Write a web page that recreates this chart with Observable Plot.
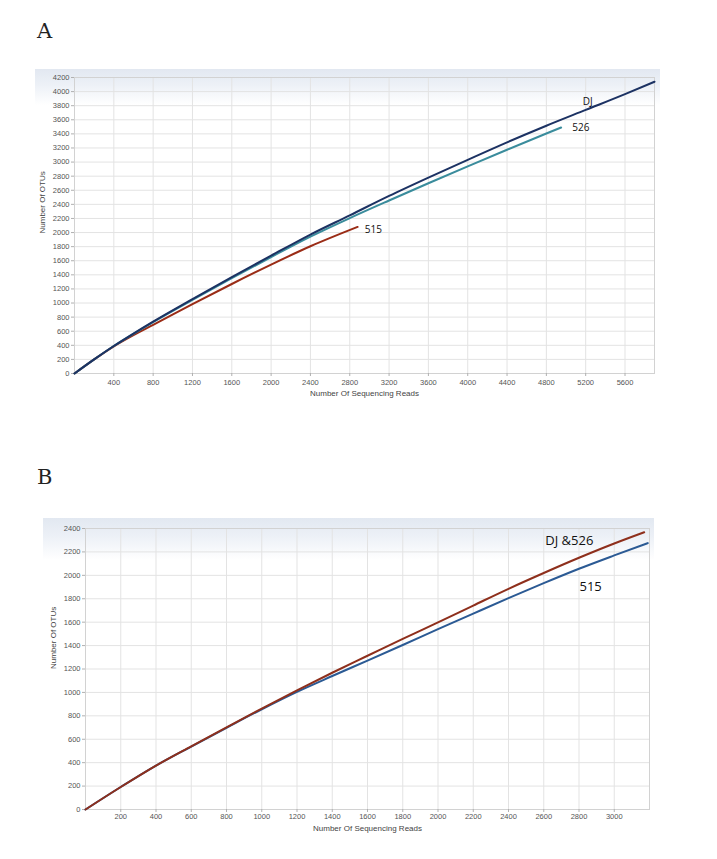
<!DOCTYPE html>
<html>
<head>
<meta charset="utf-8">
<script src="https://cdn.jsdelivr.net/npm/d3@7"></script>
<script src="https://cdn.jsdelivr.net/npm/@observablehq/plot@0.6"></script>
<style>
  html, body { margin: 0; padding: 0; background: #fff; }
  #wrap { position: relative; width: 717px; height: 859px; overflow: hidden; }
  .band { position: absolute; background: linear-gradient(to bottom, #e2e8f1 0%, #edf1f7 45%, #ffffff 100%); }
  .panel { position: absolute; left: 0; }
  .letter { position: absolute; font-family: "DejaVu Serif", "Liberation Serif", serif; font-size: 21px; color: #222; }
</style>
</head>
<body>
<div id="wrap">
  <div class="band" style="left:35px; top:69px; width:625px; height:36px;"></div>
  <div class="band" style="left:43px; top:518px; width:611px; height:42px;"></div>
  <div class="letter" style="left:37px; top:19px;">A</div>
  <div class="letter" style="left:37px; top:465px;">B</div>
  <div id="pa" class="panel" style="top:60px;"></div>
  <div id="pb" class="panel" style="top:505px;"></div>
</div>
<script>
// ---------- Panel A data ----------
const A_xTicks = [400, 800, 1200, 1600, 2000, 2400, 2800, 3200, 3600, 4000, 4400, 4800, 5200, 5600];
const A_yTicks = [0, 200, 400, 600, 800, 1000, 1200, 1400, 1600, 1800, 2000, 2200, 2400, 2600, 2800, 3000, 3200, 3400, 3600, 3800, 4000, 4200];

const A_DJ_x  = [0, 200, 400, 600, 800, 1200, 1600, 2000, 2400, 2800, 3200, 3600, 4000, 4400, 4800, 5200, 5600, 5900];
const A_DJ_y  = [0, 200, 390, 567, 736, 1056, 1368, 1672, 1972, 2244, 2520, 2780, 3032, 3280, 3516, 3740, 3964, 4140];
const A_526_x = [0, 200, 400, 600, 800, 1200, 1600, 2000, 2400, 2800, 3200, 3600, 4000, 4400, 4800, 4950];
const A_526_y = [0, 200, 390, 563, 730, 1045, 1352, 1652, 1942, 2205, 2455, 2700, 2940, 3175, 3405, 3490];
const A_515_x = [0, 200, 400, 600, 800, 1200, 1600, 2000, 2400, 2880];
const A_515_y = [0, 200, 386, 545, 690, 985, 1270, 1545, 1805, 2080];

const A_labels   = ["DJ", "526", "515"];
const A_labels_x = [5220, 5150, 3040];
const A_labels_y = [3860, 3480, 2040];

// ---------- Panel B data ----------
const B_xTicks = [200, 400, 600, 800, 1000, 1200, 1400, 1600, 1800, 2000, 2200, 2400, 2600, 2800, 3000];
const B_yTicks = [0, 200, 400, 600, 800, 1000, 1200, 1400, 1600, 1800, 2000, 2200, 2400];

const B_DJ526_x = [0, 200, 400, 600, 800, 1000, 1200, 1400, 1600, 1800, 2000, 2200, 2400, 2600, 2800, 3000, 3170];
const B_DJ526_y = [0, 192, 375, 540, 702, 862, 1018, 1168, 1313, 1458, 1598, 1742, 1885, 2020, 2150, 2272, 2368];
const B_515_x   = [0, 200, 400, 600, 800, 1000, 1200, 1400, 1600, 1800, 2000, 2200, 2400, 2600, 2800, 3000, 3190];
const B_515_y   = [0, 192, 375, 538, 698, 856, 1005, 1140, 1272, 1405, 1540, 1673, 1805, 1933, 2056, 2170, 2275];

const B_labels   = ["DJ &526", "515"];
const B_labels_x = [2745, 2866];
const B_labels_y = [2295, 1903];

// ---------- helpers ----------
const rows = (xs, ys) => xs.map((x, i) => ({x, y: ys[i]}));
const fontFam = "'Liberation Sans', Arial, sans-serif";
const gridColor = "#e3e3e3";

function makePanel(opt) {
  return Plot.plot({
    width: 717,
    height: opt.height,
    marginLeft: opt.ml, marginRight: opt.mr, marginTop: opt.mt, marginBottom: opt.mb,
    style: {background: "transparent", fontFamily: fontFam, fontSize: "7.5px", color: "#555", overflow: "visible"},
    x: {domain: opt.xDomain},
    y: {domain: opt.yDomain},
    marks: [
      Plot.gridX(opt.xTicks, {stroke: gridColor, strokeOpacity: 1}),
      Plot.gridY(opt.yTicks, {stroke: gridColor, strokeOpacity: 1}),
      Plot.frame({stroke: "#d2d2d2"}),
      Plot.axisX(opt.xTicks, {tickSize: 3, tickPadding: opt.xPad, stroke: "#b0b0b0", fill: "#555", label: null, tickFormat: "d"}),
      Plot.axisY(opt.yTicks, {tickSize: 3, tickPadding: 2, stroke: "#b0b0b0", fill: "#555", label: null, tickFormat: "d"}),
      Plot.text(["Number Of Sequencing Reads"], {frameAnchor: "bottom", dy: opt.xLabelDy, fill: "#444", fontSize: 8}),
      Plot.text(["Number Of OTUs"], {frameAnchor: "left", rotate: -90, dx: opt.yLabelDx, dy: opt.yLabelDy, fill: "#444", fontSize: 8}),
      ...opt.series.map(s => Plot.line(rows(s.x, s.y), {x: "x", y: "y", stroke: s.color, strokeWidth: 2, curve: "monotone-x"})),
      ...opt.labels
    ]
  });
}

const pa = makePanel({
  height: 345, ml: 74, mr: 63, mt: 17, mb: 32,
  xDomain: [0, 5900], yDomain: [0, 4200],
  xTicks: A_xTicks, yTicks: A_yTicks, xPad: 3,
  xLabelDy: 22, yLabelDx: -32, yLabelDy: 8,
  series: [
    {x: A_515_x, y: A_515_y, color: "#9a2c16"},
    {x: A_526_x, y: A_526_y, color: "#3a8c9c"},
    {x: A_DJ_x,  y: A_DJ_y,  color: "#1c3263"}
  ],
  labels: [
    Plot.text(A_labels.map((t, i) => ({t, x: A_labels_x[i], y: A_labels_y[i]})),
      {x: "x", y: "y", text: "t", fill: "#111", fontSize: 10, fontFamily: "'Open Sans', sans-serif"})
  ]
});
document.getElementById("pa").appendChild(pa);

const pb = makePanel({
  height: 335, ml: 85, mr: 68, mt: 23, mb: 31,
  xDomain: [0, 3200], yDomain: [0, 2400],
  xTicks: B_xTicks, yTicks: B_yTicks, xPad: 1,
  xLabelDy: 21, yLabelDx: -32, yLabelDy: 0,
  series: [
    {x: B_515_x, y: B_515_y, color: "#2b5a94"},
    {x: B_DJ526_x, y: B_DJ526_y, color: "#8e2f1c"}
  ],
  labels: [
    Plot.text(B_labels.map((t, i) => ({t, x: B_labels_x[i], y: B_labels_y[i], w: i === 0 ? 600 : 400})),
      {x: "x", y: "y", text: "t", fill: "#111", fontSize: 13, fontWeight: "w", fontFamily: "'Open Sans', sans-serif"})
  ]
});
document.getElementById("pb").appendChild(pb);
</script>
</body>
</html>
